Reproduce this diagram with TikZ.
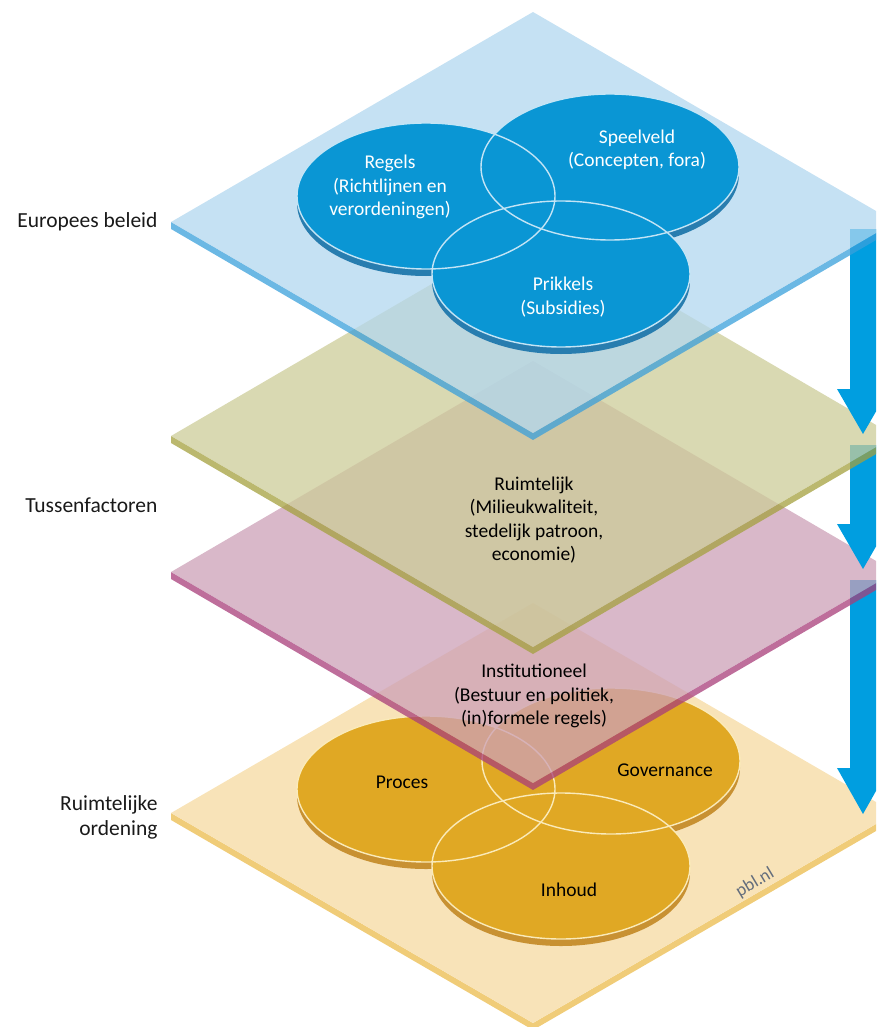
\documentclass[tikz,border=0pt]{standalone}
\usepackage{fontspec}
\setmainfont{Carlito}
\usepackage{xcolor}

\definecolor{euplane}{RGB}{178,215,239}
\definecolor{euedge}{RGB}{58,160,219}
\definecolor{tfplane}{RGB}{204,204,152}
\definecolor{tfedge}{RGB}{164,160,62}
\definecolor{inplane}{RGB}{204,160,183}
\definecolor{inedge}{RGB}{168,62,122}
\definecolor{roplane}{RGB}{248,227,184}
\definecolor{roedge}{RGB}{240,204,120}
\definecolor{eudisc}{RGB}{10,150,212}
\definecolor{eurim}{RGB}{40,125,175}
\definecolor{euring}{RGB}{195,228,245}
\definecolor{rodisc}{RGB}{224,168,36}
\definecolor{rorim}{RGB}{200,145,50}
\definecolor{roring}{RGB}{250,234,185}
\definecolor{flow}{RGB}{0,158,224}
\definecolor{mark}{RGB}{100,110,125}

\tikzset{
  layer/.style={fill=#1, fill opacity=0.75},
  disc/.style={fill=#1},
  ring/.style={draw=#1, line width=1.4pt},
  sidelabel/.style={anchor=east, align=right, text=black!90, font=\fontsize{21.5}{25}\selectfont},
  disclabel/.style={align=center, font=\fontsize{19.5}{23.5}\selectfont},
  flowarrow/.style={fill=flow}
}

\begin{document}
\begin{tikzpicture}[x=1pt,y=-1pt]
\useasboundingbox (0,0) rectangle (876,1027);
\clip (0,0) rectangle (876,1027);

% Ruimtelijke ordening (bottom layer)
\fill[roedge] (171,813)--(533,1023)--(895,813)--(895,820)--(533,1030)--(171,820)--cycle;
\fill[roplane] (171,813)--(533,603)--(895,813)--(533,1023)--cycle;

\fill[rorim] (426,796) ellipse [x radius=129, y radius=73];
\fill[rorim] (611,768) ellipse [x radius=129, y radius=73];
\fill[rorim] (561,873) ellipse [x radius=129, y radius=73];
\fill[disc=rodisc] (426,789) ellipse [x radius=129, y radius=73];
\fill[disc=rodisc] (611,761) ellipse [x radius=129, y radius=73];
\fill[disc=rodisc] (561,866) ellipse [x radius=129, y radius=73];
\draw[ring=roring] (426,789) ellipse [x radius=129, y radius=73];
\draw[ring=roring] (611,761) ellipse [x radius=129, y radius=73];
\draw[ring=roring] (561,866) ellipse [x radius=129, y radius=73];

% arrow 3
\fill[flowarrow] (850,580)--(876,580)--(876,768)--(889,768)--(863,814)--(837,768)--(850,768)--cycle;

% Institutioneel
\fill[layer=inedge] (171,572)--(533,783)--(895,572)--(895,579)--(533,790)--(171,579)--cycle;
\fill[layer=inplane] (171,572)--(533,361)--(895,572)--(533,783)--cycle;

% arrow 2
\fill[flowarrow] (850,445)--(876,445)--(876,524)--(889,524)--(863,569)--(837,524)--(850,524)--cycle;

% Ruimtelijk
\fill[layer=tfedge] (171,436)--(533,647)--(895,436)--(895,443)--(533,654)--(171,443)--cycle;
\fill[layer=tfplane] (171,436)--(533,225)--(895,436)--(533,647)--cycle;

% arrow 1
\fill[flowarrow] (850,229)--(876,229)--(876,389)--(889,389)--(863,434)--(837,389)--(850,389)--cycle;

% Europees beleid (top layer)
\fill[layer=euedge] (171,222)--(533,433)--(895,222)--(895,229)--(533,440)--(171,229)--cycle;
\fill[layer=euplane] (171,222)--(533,12)--(895,222)--(533,433)--cycle;

\fill[eurim] (426,203) ellipse [x radius=129, y radius=73];
\fill[eurim] (610,174) ellipse [x radius=129, y radius=73];
\fill[eurim] (561,281) ellipse [x radius=129, y radius=73];
\fill[disc=eudisc] (426,196) ellipse [x radius=129, y radius=73];
\fill[disc=eudisc] (610,167) ellipse [x radius=129, y radius=73];
\fill[disc=eudisc] (561,274) ellipse [x radius=129, y radius=73];
\draw[ring=euring] (426,196) ellipse [x radius=129, y radius=73];
\draw[ring=euring] (610,167) ellipse [x radius=129, y radius=73];
\draw[ring=euring] (561,274) ellipse [x radius=129, y radius=73];

% labels
\node[disclabel, text=white] (regels) at (390,187) {Regels\\(Richtlijnen en\\verordeningen)};
\node[disclabel, text=white] (speelveld) at (637,150) {Speelveld\\(Concepten, fora)};
\node[disclabel, text=white] (prikkels) at (563,297) {Prikkels\\(Subsidies)};
\node[disclabel] (ruimtelijk) at (534,520) {Ruimtelijk\\(Milieukwaliteit,\\stedelijk patroon,\\economie)};
\node[disclabel] (institutioneel) at (534,696) {Institutioneel\\(Bestuur en politiek,\\(in)formele regels)};
\node[disclabel] (proces) at (402,782) {Proces};
\node[disclabel] (governance) at (665,770) {Governance};
\node[disclabel] (inhoud) at (569,890) {Inhoud};
\node[rotate=31, text=mark, font=\fontsize{18}{20}\selectfont] (pbl) at (755,883) {pbl.nl};

\node[sidelabel] (europees) at (161,222) {Europees beleid};
\node[sidelabel] (tussen) at (161,505) {Tussenfactoren};
\node[sidelabel] (ordening) at (161,817) {Ruimtelijke\\ordening};

\end{tikzpicture}
\end{document}
